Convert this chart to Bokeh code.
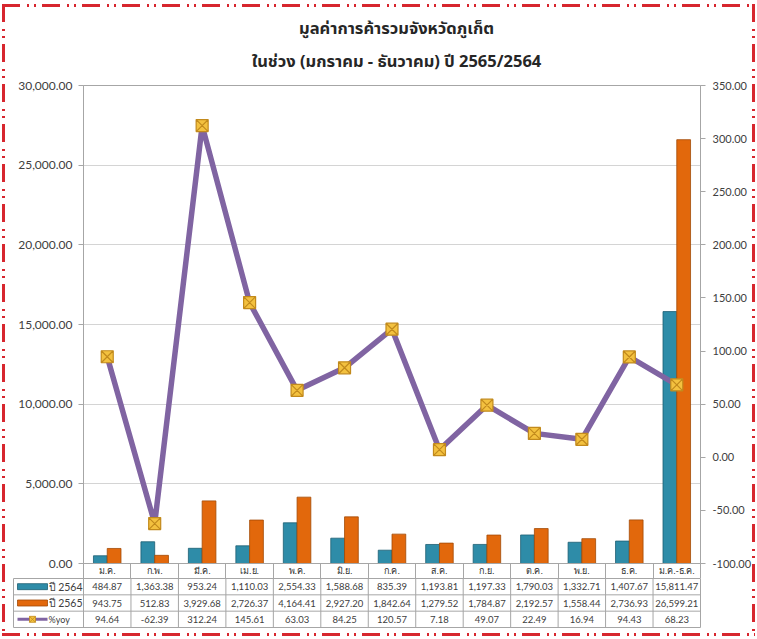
from bokeh.plotting import figure
from bokeh.models import (Range1d, LinearAxis, FixedTicker, NumeralTickFormatter,
                          ColumnDataSource, Div, InlineStyleSheet, SingleIntervalTicker)
from bokeh.layouts import column
from bokeh.embed import file_html
from bokeh.resources import INLINE
from bokeh.core.properties import value

# ---------------- data ----------------
months = ["ม.ค.", "ก.พ.", "มี.ค.", "เม.ย.", "พ.ค.", "มิ.ย.", "ก.ค.", "ส.ค.",
          "ก.ย.", "ต.ค.", "พ.ย.", "ธ.ค.", "ม.ค.-ธ.ค."]
v2564 = [484.87, 1363.38, 953.24, 1110.03, 2554.33, 1588.68, 835.39, 1193.81,
         1197.33, 1790.03, 1332.71, 1407.67, 15811.47]
v2565 = [943.75, 512.83, 3929.68, 2726.37, 4164.41, 2927.20, 1842.64, 1279.52,
         1784.87, 2192.57, 1558.44, 2736.93, 26599.21]
yoy = [94.64, -62.39, 312.24, 145.61, 63.03, 84.25, 120.57, 7.18, 49.07,
       22.49, 16.94, 94.43, 68.23]
series_names = ["ปี 2564", "ปี 2565", "%yoy"]
title_lines = ["มูลค่าการค้ารวมจังหวัดภูเก็ต", "ในช่วง (มกราคม - ธันวาคม) ปี 2565/2564"]

# ---------------- styles ----------------
TEAL = "#2e8ca8"
TEAL_EDGE = "#1d5e72"
ORANGE = "#e2680c"
ORANGE_EDGE = "#a24a06"
PURPLE = "#8064a2"
GRID = "#d4d4d4"
AXIS = "#a6a6a6"
TXT = "#404040"
FONT = "Lato"
THAI = "'Noto Sans Thai', 'Noto Sans', Tahoma, sans-serif"
W = 757

n = len(months)
centers = [i + 0.5 for i in range(n)]
bounds = list(range(n + 1))
BW = 0.29


def no_align(fig):
    try:
        fig.frame_align = False
    except Exception:
        pass


# ---------------- title ----------------
title = Div(
    text=(f'<div style="font-family:{THAI};font-size:16.5px;font-weight:bold;color:#262626;'
          f'text-align:center;line-height:33px;height:76px;overflow:hidden;'
          f'box-sizing:border-box;padding-top:12px;padding-left:36px;width:{W}px;">'
          f'<div>{title_lines[0]}</div><div>{title_lines[1]}</div></div>'),
    width=W, height=76, margin=(0, 0, 0, 0))

# ---------------- chart ----------------
p = figure(width=W, height=502, x_range=Range1d(0, n), y_range=Range1d(0, 30000),
           output_backend="svg", toolbar_location=None,
           min_border_left=83, min_border_right=57, min_border_top=9, min_border_bottom=15)
no_align(p)
p.outline_line_color = AXIS
p.xgrid.visible = False
p.ygrid.grid_line_color = GRID

src = ColumnDataSource(dict(x=centers, a=v2564, b=v2565, y=yoy,
                            xa=[c - BW / 2 for c in centers],
                            xb=[c + BW / 2 for c in centers]))
p.vbar(x="xa", top="a", width=BW, source=src, fill_color=TEAL,
       line_color=TEAL_EDGE, line_width=0.8)
p.vbar(x="xb", top="b", width=BW, source=src, fill_color=ORANGE,
       line_color=ORANGE_EDGE, line_width=0.8)

p.extra_y_ranges = {"yoy": Range1d(-100, 350)}
p.line(x="x", y="y", source=src, y_range_name="yoy", line_color=PURPLE,
       line_width=5.5, line_join="round")
p.scatter(x="x", y="y", source=src, y_range_name="yoy", marker="square_x",
          size=12, fill_color="#f3c13f", line_color="#c28a1c", line_width=1.2)

# left axis
ya = p.yaxis[0]
ya.ticker = SingleIntervalTicker(interval=5000, num_minor_ticks=0)
ya.formatter = NumeralTickFormatter(format="0,0.00")
ya.axis_line_color = AXIS
ya.major_tick_line_color = AXIS
ya.major_tick_in = 0
ya.major_tick_out = 5
ya.minor_tick_line_color = None
ya.major_label_text_font = FONT
ya.major_label_text_font_size = "12px"
ya.major_label_text_color = TXT
ya.major_label_standoff = 6

# right axis
ra = LinearAxis(y_range_name="yoy",
                ticker=SingleIntervalTicker(interval=50, num_minor_ticks=0),
                formatter=NumeralTickFormatter(format="0.00"))
ra.axis_line_color = AXIS
ra.major_tick_line_color = AXIS
ra.major_tick_in = 0
ra.major_tick_out = 5
ra.minor_tick_line_color = None
ra.major_label_text_font = FONT
ra.major_label_text_font_size = "11px"
ra.major_label_text_color = TXT
ra.major_label_standoff = 7
p.add_layout(ra, "right")

# bottom axis = header row of the data table
xa = p.xaxis[0]
xa.ticker = FixedTicker(ticks=centers, minor_ticks=bounds)
xa.major_label_overrides = {c: m for c, m in zip(centers, months)}
xa.axis_line_color = AXIS
xa.major_tick_line_color = None
xa.minor_tick_line_color = AXIS
xa.minor_tick_in = 0
xa.minor_tick_out = 15
xa.major_label_standoff = -13
xa.major_label_text_font_size = "9px"
xa.major_label_text_color = "#303030"

# ---------------- data table ----------------
PX = (W - 83 - 57) / n             # pixels per category (chart frame width / n)
LEG_W = 70 / PX                    # legend column width in category units
tb = figure(width=W, height=61, x_range=Range1d(-LEG_W, n), y_range=Range1d(0, 3),
            output_backend="svg", toolbar_location=None,
            x_axis_location=None, y_axis_location=None,
            min_border_left=13, min_border_right=57, min_border_top=0, min_border_bottom=12)
no_align(tb)
tb.grid.visible = False
tb.outline_line_color = AXIS

rows = [v2564, v2565, yoy]
tx, ty, tt = [], [], []
for k, row in enumerate(rows):
    for c, v in zip(centers, row):
        tx.append(c)
        ty.append(2.5 - k)
        tt.append(f"{v:,.2f}")
tb.text(x=tx, y=ty, text=tt, text_align="center", text_baseline="middle",
        text_font=value(FONT), text_font_size="9.5px", text_color=TXT)

# table lines
tb.segment(x0=[-LEG_W] * 2, x1=[n] * 2, y0=[1, 2], y1=[1, 2], line_color=AXIS, line_width=1)
tb.segment(x0=bounds[:-1], x1=bounds[:-1], y0=[0] * n, y1=[3] * n, line_color=AXIS, line_width=1)

# legend keys
kx = -LEG_W + (32 - 13) / PX
kw = 30 / PX
tb.rect(x=[kx, kx], y=[2.5, 1.5], width=[kw, kw], height=6, height_units="screen",
        fill_color=[TEAL, ORANGE], line_color=[TEAL_EDGE, ORANGE_EDGE], line_width=0.8)
tb.segment(x0=[kx - kw / 2], x1=[kx + kw / 2], y0=[0.5], y1=[0.5], line_color=PURPLE, line_width=3)
tb.scatter(x=[kx], y=[0.5], marker="square_x", size=6, fill_color="#f3c13f",
           line_color="#c28a1c", line_width=0.8)
lx = -LEG_W + (48 - 13) / PX
tb.text(x=[lx] * 3, y=[2.5, 1.5, 0.5], text=series_names, text_align="left",
        text_baseline="middle", text_font=value(FONT),
        text_font_size=["10.5px", "10.5px", "9px"], text_color=TXT)

# ---------------- page border (dash-dot-dot, red) ----------------
C = "#d7262e"
H = (f"repeating-linear-gradient(90deg, {C} 0 18px, transparent 18px 25px, {C} 25px 27px,"
     f" transparent 27px 32px, {C} 32px 34px, transparent 34px 40px)")
V = H.replace("90deg", "180deg")
css = f"""
:host {{ position: relative; }}
:host::after {{
  content: "";
  position: absolute;
  left: 2px; top: 4px; right: 2px; bottom: 3px;
  pointer-events: none;
  background-image: {H}, {H}, {V}, {V};
  background-size: 100% 3px, 100% 3px, 3px 100%, 3px 100%;
  background-position: 0 0, 0 100%, 0 0, 100% 0;
  background-repeat: no-repeat;
}}
"""
layout = column(title, p, tb, spacing=0, width=W,
                stylesheets=[InlineStyleSheet(css=css)])

open("out.html", "w").write(file_html(layout, INLINE))
